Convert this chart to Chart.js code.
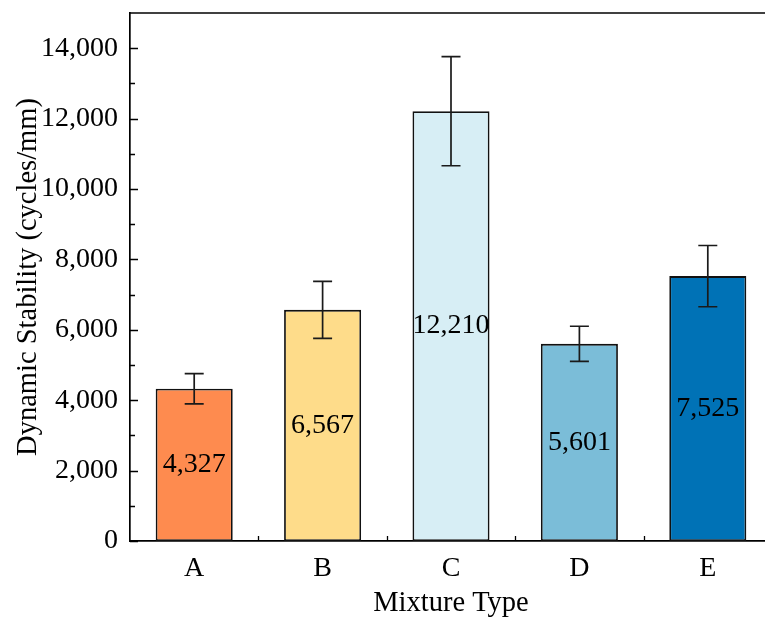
<!DOCTYPE html>
<html>
<head>
<meta charset="utf-8">
<script src="https://cdn.jsdelivr.net/npm/chart.js@4.4.1/dist/chart.umd.min.js"></script>
<style>
  html, body { margin: 0; padding: 0; background: #fff; overflow: hidden; width: 765px; height: 619px; }
  #wrap { position: absolute; left: 0; top: 0; width: 772px; height: 619px; }
</style>
</head>
<body>
<div id="wrap"><canvas id="c" width="772" height="619"></canvas></div>
<script>
const categories = ['A', 'B', 'C', 'D', 'E'];
const values = [4327, 6567, 12210, 5601, 7525];
const errors = [430, 810, 1550, 500, 870];
const barColors = ['#FE8B4F', '#FEDC8A', '#D7EEF5', '#7BBDD8', '#0072B6'];
const yMajorTicks = [0, 2000, 4000, 6000, 8000, 10000, 12000, 14000];
const yMinorTicks = [1000, 3000, 5000, 7000, 9000, 11000, 13000];
const yAxisTitle = 'Dynamic Stability (cycles/mm)';
const xAxisTitle = 'Mixture Type';

const FONT = '"Liberation Serif", "Times New Roman", serif';
const fmt = v => v.toLocaleString('en-US');

const decor = {
  id: 'decor',
  afterDatasetsDraw(chart) {
    const ctx = chart.ctx;
    const xs = chart.scales.x, ys = chart.scales.y;
    const area = chart.chartArea;
    ctx.save();
    // error bars
    ctx.strokeStyle = '#1a1a1a';
    ctx.lineWidth = 1.7;
    values.forEach((v, i) => {
      const x = xs.getPixelForValue(i);
      const yt = ys.getPixelForValue(v + errors[i]);
      const yb = ys.getPixelForValue(v - errors[i]);
      ctx.beginPath();
      ctx.moveTo(x, yt); ctx.lineTo(x, yb);
      ctx.moveTo(x - 9.5, yt); ctx.lineTo(x + 9.5, yt);
      ctx.moveTo(x - 9.5, yb); ctx.lineTo(x + 9.5, yb);
      ctx.stroke();
    });
    // value labels
    ctx.fillStyle = '#000';
    ctx.font = '28px ' + FONT;
    ctx.textAlign = 'center';
    ctx.textBaseline = 'middle';
    values.forEach((v, i) => {
      const x = xs.getPixelForValue(i);
      const y = ys.getPixelForValue(v / 2);
      ctx.fillText(fmt(v), x, y);
    });
    // inward ticks
    ctx.strokeStyle = '#000';
    ctx.lineWidth = 1.3;
    ctx.beginPath();
    yMajorTicks.forEach(t => {
      const y = Math.round(ys.getPixelForValue(t)) + 0.5;
      ctx.moveTo(area.left, y); ctx.lineTo(area.left + 8, y);
    });
    yMinorTicks.forEach(t => {
      const y = Math.round(ys.getPixelForValue(t)) + 0.5;
      ctx.moveTo(area.left, y); ctx.lineTo(area.left + 5, y);
    });
    for (let i = 0; i < categories.length - 1; i++) {
      const x = Math.round((xs.getPixelForValue(i) + xs.getPixelForValue(i + 1)) / 2) + 0.5;
      ctx.moveTo(x, area.bottom); ctx.lineTo(x, area.bottom - 5);
    }
    ctx.stroke();
    // top frame line
    ctx.lineWidth = 1.7;
    ctx.beginPath();
    ctx.moveTo(area.left, area.top); ctx.lineTo(area.right + 10, area.top);
    ctx.stroke();
    ctx.restore();
  }
};

new Chart(document.getElementById('c'), {
  type: 'bar',
  data: {
    labels: categories,
    datasets: [{
      data: values,
      backgroundColor: barColors,
      borderColor: '#111',
      borderWidth: 1.8,
      borderSkipped: false,
      barPercentage: 0.6,
      categoryPercentage: 1.0
    }]
  },
  options: {
    responsive: false,
    animation: false,
    devicePixelRatio: 1,
    layout: { padding: { top: 13, left: 0, right: 0, bottom: 0 } },
    plugins: { legend: { display: false }, tooltip: { enabled: false } },
    scales: {
      x: {
        type: 'category',
        offset: true,
        grid: { display: false, drawTicks: false },
        border: { display: true, color: '#000', width: 1.7 },
        ticks: { color: '#000', font: { family: FONT, size: 28 }, padding: 11 },
        title: { display: true, text: xAxisTitle, color: '#000', font: { family: FONT, size: 28.5 }, padding: { top: 0, bottom: -2 } },
        afterFit(scale) { scale.height = 78; scale.paddingLeft = 0; scale.paddingRight = 0; }
      },
      y: {
        min: 0,
        max: 15000,
        grid: { display: false, drawTicks: false },
        border: { display: true, color: '#000', width: 1.7 },
        ticks: {
          autoSkip: false,
          color: '#000',
          padding: 12,
          font: { family: FONT, size: 28 },
          callback: v => fmt(v)
        },
        afterBuildTicks(scale) { scale.ticks = yMajorTicks.map(v => ({ value: v })); },
        title: { display: true, text: yAxisTitle, color: '#000', font: { family: FONT, size: 28.5 }, padding: { top: 11, bottom: 0 } },
        afterFit(scale) { scale.width = 130; scale.paddingTop = 0; scale.paddingBottom = 0; }
      }
    }
  },
  plugins: [decor]
});
</script>
</body>
</html>
